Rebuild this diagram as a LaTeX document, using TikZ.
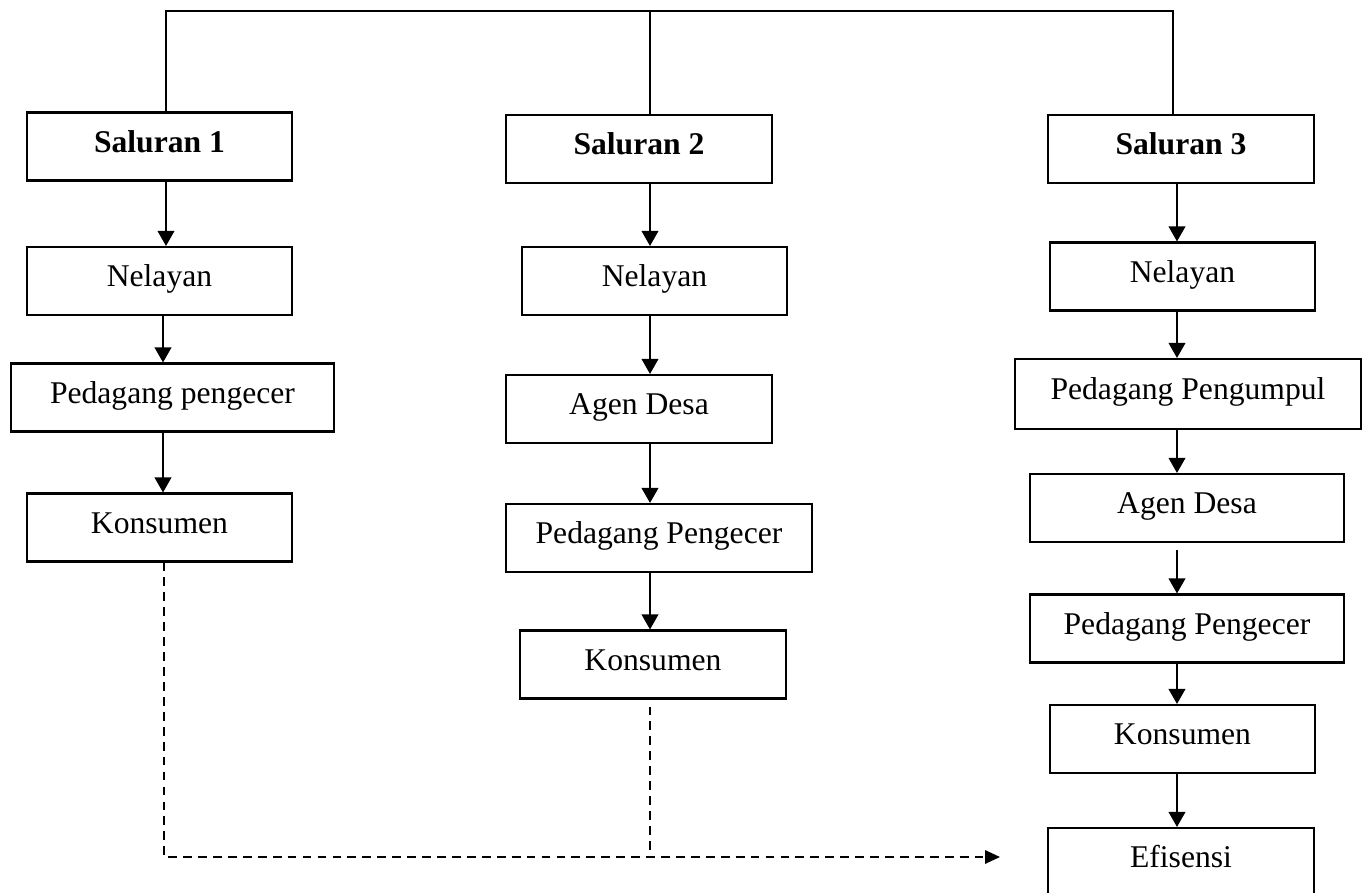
\documentclass[tikz,border=0pt]{standalone}
\usepackage{fontspec}
\setmainfont{Liberation Serif}
\usetikzlibrary{arrows.meta}

\tikzset{
  boks/.style={draw, line width=1.2pt, inner sep=0pt, minimum height=1.36cm,
    text height=0.7em, text depth=0.02em,
    font=\fontsize{18pt}{22pt}\selectfont},
  judul/.style={boks, font=\fontsize{18pt}{22pt}\selectfont\bfseries},
  garis/.style={line width=1.2pt},
  panah/.style={garis, -{Triangle[length=0.3cm, width=0.33cm]}},
  putus/.style={line width=1pt, dash pattern=on 5pt off 3.5pt}
}

\begin{document}
\begin{tikzpicture}[x=0.02cm, y=-0.02cm]
  \useasboundingbox (0,0) rectangle (1367,893);
  \clip (0,0) rectangle (1367,893);

  % Saluran 1
  \node [judul, minimum width=5.3cm] (s1) at (159.5,146.5) {Saluran 1};
  \node [boks, minimum width=5.3cm] (n1) at (159.5,281) {Nelayan};
  \node [boks, minimum width=6.46cm] (p1) at (172.5,397.5) {Pedagang pengecer};
  \node [boks, minimum width=5.3cm] (k1) at (159.5,527.5) {Konsumen};

  % Saluran 2
  \node [judul, minimum width=5.32cm] (s2) at (639,149) {Saluran 2};
  \node [boks, minimum width=5.3cm] (n2) at (654.5,281) {Nelayan};
  \node [boks, minimum width=5.32cm] (a2) at (639,409) {Agen Desa};
  \node [boks, minimum width=6.12cm] (p2) at (659,538) {Pedagang Pengecer};
  \node [boks, minimum width=5.32cm] (k2) at (653,664.5) {Konsumen};

  % Saluran 3
  \node [judul, minimum width=5.32cm] (s3) at (1181,149) {Saluran 3};
  \node [boks, minimum width=5.3cm] (n3) at (1182.5,276.5) {Nelayan};
  \node [boks, minimum width=6.92cm, minimum height=1.4cm] (g3) at (1188,394) {Pedagang Pengumpul};
  \node [boks, minimum width=6.28cm] (a3) at (1187,508) {Agen Desa};
  \node [boks, minimum width=6.28cm] (p3) at (1187,628.5) {Pedagang Pengecer};
  \node [boks, minimum width=5.3cm] (k3) at (1182.5,739) {Konsumen};
  \node [boks, minimum width=5.32cm] (e3) at (1181,862) {Efisensi};

  % column lines
  \coordinate (c1) at (166,0);
  \coordinate (c1b) at (163,0);
  \coordinate (c2) at (650,0);
  \coordinate (c3) at (1177,0);
  \coordinate (atas1) at (166,11);
  \coordinate (atas3) at (1173,11);
  \coordinate (bawah1) at (164,857);
  \coordinate (ujung) at (1000,857);

  % Drawing top bracket
  \draw [garis] (s1.north -| atas1) -- (atas1) -- (atas3) -- (s3.north -| atas3);
  \draw [garis] (s2.north -| c2) -- (c2 |- atas1);

  % Drawing arrows
  \draw [panah] (s1.south -| c1) -- (n1.north -| c1);
  \draw [panah] (n1.south -| c1b) -- (p1.north -| c1b);
  \draw [panah] (p1.south -| c1b) -- (k1.north -| c1b);

  \draw [panah] (s2.south -| c2) -- (n2.north -| c2);
  \draw [panah] (n2.south -| c2) -- (a2.north -| c2);
  \draw [panah] (a2.south -| c2) -- (p2.north -| c2);
  \draw [panah] (p2.south -| c2) -- (k2.north -| c2);

  \draw [panah] (s3.south -| c3) -- (n3.north -| c3);
  \draw [panah] (n3.south -| c3) -- (g3.north -| c3);
  \draw [panah] (g3.south -| c3) -- (a3.north -| c3);
  \draw [panah, shorten <=0.14cm] (a3.south -| c3) -- (p3.north -| c3);
  \draw [panah] (p3.south -| c3) -- (k3.north -| c3);
  \draw [panah] (k3.south -| c3) -- (e3.north -| c3);

  % Drawing dashed lines
  \draw [putus, -{Triangle[length=0.3cm, width=0.27cm]}] (k1.south -| bawah1) -- (bawah1) -- (ujung);
  \draw [putus, shorten <=0.14cm] (k2.south -| c2) -- (c2 |- bawah1);
\end{tikzpicture}
\end{document}
